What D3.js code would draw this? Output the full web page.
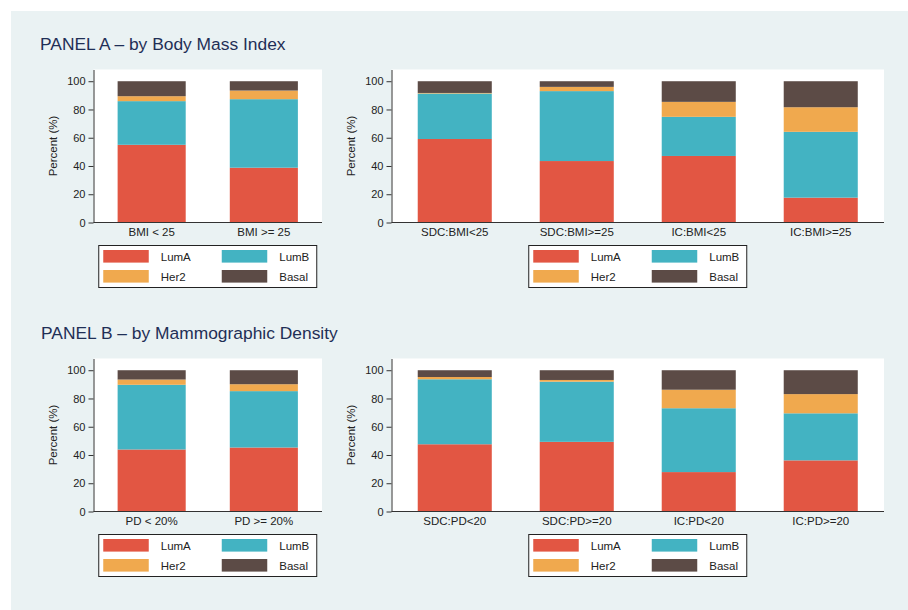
<!DOCTYPE html>
<html>
<head>
<meta charset="utf-8">
<script src="https://cdn.jsdelivr.net/npm/d3@7"></script>
<style>
  html, body { margin: 0; padding: 0; background: #ffffff; }
  svg { display: block; font-family: "Liberation Sans", Arial, Helvetica, sans-serif; }
</style>
</head>
<body>
<svg id="chart" width="908" height="610"></svg>
<script>
// Molecular subtype distribution (%) by BMI and mammographic density
const subtypes = ["LumA", "LumB", "Her2", "Basal"];
const subtypeColors = ["#e25643", "#43b3c2", "#f0a94e", "#5c4b46"];
const yTicks = [0, 20, 40, 60, 80, 100];

// Panel A, overall by BMI
const bmiCats = ["BMI < 25", "BMI >= 25"];
const bmiLumA = [55.0, 38.8];
const bmiLumB = [30.9, 48.5];
const bmiHer2 = [3.5, 6.1];
const bmiBasal = [10.6, 6.6];

// Panel A, by detection mode (SDC / IC) and BMI
const bmiModeCats = ["SDC:BMI<25", "SDC:BMI>=25", "IC:BMI<25", "IC:BMI>=25"];
const bmiModeLumA = [59.1, 43.5, 47.1, 17.6];
const bmiModeLumB = [32.2, 49.5, 27.7, 46.6];
const bmiModeHer2 = [0.4, 3.0, 10.6, 17.4];
const bmiModeBasal = [8.3, 4.0, 14.6, 18.4];

// Panel B, overall by percent density
const pdCats = ["PD < 20%", "PD >= 20%"];
const pdLumA = [43.9, 45.3];
const pdLumB = [45.8, 39.9];
const pdHer2 = [3.7, 4.9];
const pdBasal = [6.6, 9.9];

// Panel B, by detection mode (SDC / IC) and percent density
const pdModeCats = ["SDC:PD<20", "SDC:PD>=20", "IC:PD<20", "IC:PD>=20"];
const pdModeLumA = [47.6, 49.3, 27.9, 36.2];
const pdModeLumB = [46.0, 42.6, 45.2, 33.3];
const pdModeHer2 = [1.6, 1.2, 13.1, 13.6];
const pdModeBasal = [4.8, 6.9, 13.8, 16.9];

const svg = d3.select("#chart");

// graph region background
svg.append("rect")
  .attr("x", 11).attr("y", 11)
  .attr("width", 897).attr("height", 599)
  .attr("fill", "#eaf2f3");

const titleColor = "#1f2f56";
svg.append("text").attr("x", 40).attr("y", 50)
  .attr("font-size", 17.4).attr("fill", titleColor)
  .text("PANEL A \u2013 by Body Mass Index");
svg.append("text").attr("x", 41).attr("y", 339)
  .attr("font-size", 17.4).attr("fill", titleColor)
  .text("PANEL B \u2013 by Mammographic Density");

function buildRows(cats, lumA, lumB, her2, basal) {
  return cats.map((c, i) => ({ cat: c, LumA: lumA[i], LumB: lumB[i], Her2: her2[i], Basal: basal[i] }));
}

function drawPanel(rows, box) {
  const g = svg.append("g");
  const x = d3.scaleBand()
    .domain(rows.map(d => d.cat))
    .range([box.left, box.right])
    .paddingInner(0.393)
    .paddingOuter(0.215);
  const y = d3.scaleLinear().domain([0, 108.3]).range([box.base, box.top]);

  // plot region
  g.append("rect")
    .attr("x", box.left).attr("y", box.top)
    .attr("width", box.right - box.left).attr("height", box.base - box.top)
    .attr("fill", "#ffffff");

  const stacked = d3.stack().keys(subtypes)(rows);
  g.selectAll("g.series").data(stacked).join("g")
    .attr("class", "series")
    .attr("fill", (d, i) => subtypeColors[i])
    .selectAll("rect").data(d => d).join("rect")
    .attr("x", d => x(d.data.cat))
    .attr("width", x.bandwidth())
    .attr("y", d => y(d[1]))
    .attr("height", d => y(d[0]) - y(d[1]));

  // y axis
  const ya = g.append("g")
    .attr("transform", `translate(${box.left},0)`)
    .call(d3.axisLeft(y).tickValues(yTicks).tickSize(5).tickSizeOuter(0).tickPadding(3));
  ya.selectAll("text").attr("font-size", 11).attr("fill", "#222").attr("font-family", null);
  ya.selectAll("line, path").attr("stroke", "#333");

  // x axis
  const xa = g.append("g")
    .attr("transform", `translate(0,${box.base})`)
    .call(d3.axisBottom(x).tickSize(0).tickSizeOuter(0).tickPadding(5));
  xa.selectAll("text").attr("font-size", 11.5).attr("fill", "#222").attr("font-family", null);
  xa.select("path").attr("stroke", "#333").attr("d", `M${box.left},0H${box.right}`);

  // y title
  g.append("text")
    .attr("transform", `translate(${box.left - 37},${(box.top + box.base) / 2}) rotate(-90)`)
    .attr("text-anchor", "middle")
    .attr("font-size", 11.5).attr("fill", "#222")
    .text("Percent (%)");

  // legend
  const lw = 218, lh = 42;
  const lx = (box.left + box.right) / 2 - lw / 2;
  const ly = box.base + 23;
  const lg = g.append("g").attr("transform", `translate(${lx},${ly})`);
  lg.append("rect").attr("x", 0).attr("y", 0).attr("width", lw).attr("height", lh)
    .attr("fill", "#ffffff").attr("stroke", "#222").attr("stroke-width", 1);
  const items = lg.selectAll("g.item").data(subtypes).join("g")
    .attr("class", "item")
    .attr("transform", (d, i) => `translate(${i % 2 === 0 ? 4.5 : 123},${i < 2 ? 4.5 : 24.5})`);
  items.append("rect").attr("width", 45.5).attr("height", 12.6)
    .attr("fill", (d, i) => subtypeColors[i]);
  items.append("text").attr("x", 57.5).attr("y", 11)
    .attr("font-size", 11.5).attr("fill", "#222")
    .text(d => d);
}

drawPanel(buildRows(bmiCats, bmiLumA, bmiLumB, bmiHer2, bmiBasal),
  { left: 93.5, right: 322, top: 69.5, base: 222.5 });
drawPanel(buildRows(bmiModeCats, bmiModeLumA, bmiModeLumB, bmiModeHer2, bmiModeBasal),
  { left: 391.5, right: 884, top: 69.5, base: 222.5 });
drawPanel(buildRows(pdCats, pdLumA, pdLumB, pdHer2, pdBasal),
  { left: 93.5, right: 322, top: 358.5, base: 511.5 });
drawPanel(buildRows(pdModeCats, pdModeLumA, pdModeLumB, pdModeHer2, pdModeBasal),
  { left: 391.5, right: 884, top: 358.5, base: 511.5 });
</script>
</body>
</html>
